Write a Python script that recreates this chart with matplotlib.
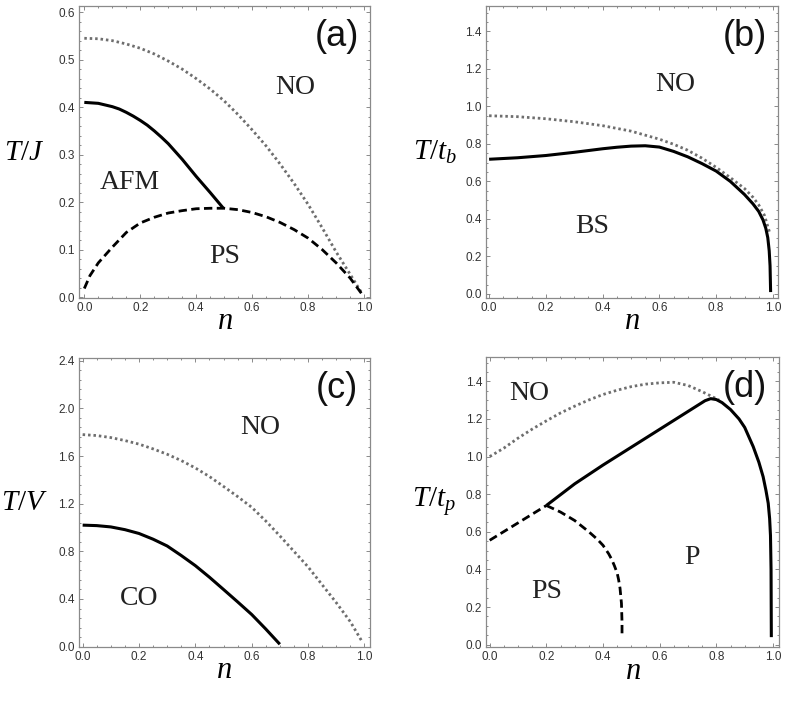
import matplotlib
matplotlib.use("Agg")
import matplotlib.pyplot as plt
from matplotlib.ticker import MultipleLocator, FormatStrFormatter

plt.rcParams["font.family"] = ["Liberation Sans", "DejaVu Sans"]
plt.rcParams["mathtext.fontset"] = "custom"
plt.rcParams["mathtext.it"] = "Liberation Serif:italic"
plt.rcParams["mathtext.rm"] = "Liberation Serif"

# panel (a): T/J vs n
a_dot_n = [0, 0.05, 0.1, 0.15, 0.2, 0.25, 0.3, 0.35, 0.4, 0.45, 0.5, 0.55, 0.6, 0.65, 0.7,
           0.75, 0.8, 0.85, 0.9, 0.95, 0.99]
a_dot_T = [0.545, 0.544, 0.54, 0.533, 0.524, 0.512, 0.497, 0.48, 0.46, 0.438, 0.413, 0.384,
           0.352, 0.318, 0.28, 0.239, 0.195, 0.146, 0.095, 0.048, 0.01]
a_sol_n = [0, 0.05, 0.1, 0.125, 0.15, 0.175, 0.2, 0.225, 0.25, 0.275, 0.3, 0.35, 0.4, 0.45,
           0.497]
a_sol_T = [0.41, 0.408, 0.401, 0.396, 0.389, 0.381, 0.372, 0.362, 0.35, 0.337, 0.323, 0.29,
           0.254, 0.22, 0.187]
a_dash_n = [0, 0.02, 0.05, 0.1, 0.15, 0.2, 0.25, 0.3, 0.35, 0.4, 0.45, 0.5, 0.55, 0.6, 0.65,
            0.7, 0.75, 0.8, 0.85, 0.9, 0.95, 0.99]
a_dash_T = [0.018, 0.045, 0.072, 0.105, 0.136, 0.156, 0.168, 0.177, 0.182, 0.186, 0.187,
            0.187, 0.184, 0.178, 0.169, 0.157, 0.142, 0.124, 0.1, 0.072, 0.04, 0.008]

# panel (b): T/t_b vs n
b_dot_n = [0, 0.1, 0.2, 0.3, 0.4, 0.5, 0.6, 0.65, 0.7, 0.75, 0.8, 0.85, 0.9, 0.93, 0.95,
           0.97, 0.98, 0.99]
b_dot_T = [0.95, 0.945, 0.934, 0.918, 0.897, 0.868, 0.825, 0.798, 0.766, 0.724, 0.675, 0.62,
           0.562, 0.515, 0.475, 0.42, 0.37, 0.32]
b_sol_n = [0, 0.1, 0.2, 0.3, 0.4, 0.45, 0.5, 0.55, 0.6, 0.65, 0.7, 0.75, 0.8, 0.85, 0.9,
           0.93, 0.95, 0.965, 0.975, 0.982, 0.987, 0.99, 0.992]
b_sol_T = [0.718, 0.726, 0.738, 0.755, 0.774, 0.782, 0.788, 0.79, 0.783, 0.76, 0.731, 0.695,
           0.655, 0.6, 0.53, 0.48, 0.44, 0.395, 0.35, 0.3, 0.23, 0.15, 0.01]

# panel (c): T/V vs n
c_dot_n = [0, 0.05, 0.1, 0.15, 0.2, 0.25, 0.3, 0.35, 0.4, 0.45, 0.5, 0.55, 0.6, 0.65, 0.7,
           0.75, 0.8, 0.85, 0.9, 0.95, 0.99]
c_dot_T = [1.78, 1.772, 1.755, 1.73, 1.70, 1.66, 1.615, 1.562, 1.50, 1.428, 1.345, 1.26,
           1.17, 1.055, 0.93, 0.80, 0.67, 0.52, 0.37, 0.21, 0.05]
c_sol_n = [0, 0.05, 0.1, 0.15, 0.2, 0.25, 0.3, 0.35, 0.4, 0.45, 0.5, 0.55, 0.6, 0.65, 0.7]
c_sol_T = [1.02, 1.016, 1.005, 0.982, 0.95, 0.902, 0.845, 0.765, 0.68, 0.583, 0.48, 0.376,
           0.27, 0.148, 0.02]

# panel (d): T/t_p vs n
d_dot_n = [0, 0.05, 0.1, 0.15, 0.2, 0.25, 0.3, 0.35, 0.4, 0.45, 0.5, 0.55, 0.6, 0.65, 0.7,
           0.75, 0.81]
d_dot_T = [1.0, 1.045, 1.098, 1.146, 1.19, 1.232, 1.268, 1.301, 1.33, 1.353, 1.372, 1.385,
           1.392, 1.395, 1.378, 1.345, 1.30]
d_sol_n = [0.2, 0.3, 0.4, 0.5, 0.6, 0.7, 0.74, 0.76, 0.78, 0.8, 0.82, 0.85, 0.88, 0.9, 0.93,
           0.95, 0.965, 0.975, 0.983, 0.988, 0.991, 0.993, 0.994]
d_sol_T = [0.74, 0.855, 0.955, 1.05, 1.145, 1.24, 1.278, 1.297, 1.308, 1.303, 1.287, 1.25,
           1.2, 1.155, 1.053, 0.97, 0.893, 0.82, 0.752, 0.67, 0.58, 0.4, 0.04]
d_dash1_n = [0, 0.2]
d_dash1_T = [0.555, 0.74]
d_dash2_n = [0.2, 0.25, 0.3, 0.35, 0.38, 0.4, 0.42, 0.43, 0.44, 0.45, 0.455, 0.46, 0.465,
             0.467, 0.467]
d_dash2_T = [0.74, 0.705, 0.66, 0.6, 0.56, 0.528, 0.483, 0.455, 0.42, 0.38, 0.345, 0.3, 0.22,
             0.12, 0.04]

W, H = 786, 708
fig = plt.figure(figsize=(W / 100, H / 100), dpi=100)


def make_ax(l, r, t, b):
    return fig.add_axes([l / W, 1 - b / H, (r - l) / W, (b - t) / H])


frame_col = "#8a8a8a"
dot_kw = dict(color="#6e6e6e", lw=2.0, dashes=(0.9, 1.05), dash_capstyle="butt")
sol_kw = dict(color="black", lw=2.2, solid_capstyle="butt", solid_joinstyle="round")
dash_kw = dict(color="black", lw=2.0, dashes=(3.0, 1.6), dash_capstyle="butt")
region_kw = dict(family="Liberation Serif", fontsize=20, ha="center", va="center",
                 color="#222222")


def style(ax, xlim, ylim, ymaj, ymin, ylabel, ylx, tag):
    ax.set_xlim(*xlim)
    ax.set_ylim(*ylim)
    ax.xaxis.set_major_locator(MultipleLocator(0.2))
    ax.xaxis.set_minor_locator(MultipleLocator(0.05))
    ax.yaxis.set_major_locator(MultipleLocator(ymaj))
    ax.yaxis.set_minor_locator(MultipleLocator(ymin))
    ax.xaxis.set_major_formatter(FormatStrFormatter("%.1f"))
    ax.yaxis.set_major_formatter(FormatStrFormatter("%.1f"))
    ax.tick_params(which="both", direction="in", top=True, right=True,
                   color=frame_col, width=0.7)
    ax.tick_params(which="major", length=3.2, labelsize=8.5, labelcolor="#333333", pad=3)
    ax.tick_params(which="minor", length=1.7)
    for s in ax.spines.values():
        s.set_color(frame_col)
        s.set_linewidth(0.9)
    ax.set_xlabel(r"$n$", fontsize=22, va="center")
    ax.xaxis.set_label_coords(0.5, -0.08)
    ax.set_ylabel(ylabel, fontsize=21, rotation=0, ha="center", va="center")
    ax.yaxis.set_label_coords(ylx, 0.5)
    ax.text(0.885, 0.895, tag, transform=ax.transAxes, fontsize=26, ha="center",
            va="center", color="#111111")


# (a)
ax = make_ax(79, 370, 6, 298)
ax.plot(a_dot_n, a_dot_T, **dot_kw)
ax.plot(a_sol_n, a_sol_T, **sol_kw)
ax.plot(a_dash_n, a_dash_T, **dash_kw)
ax.text(0.753, 0.442, "NO", **region_kw)
ax.text(0.163, 0.241, "AFM", **region_kw)
ax.text(0.50, 0.085, "PS", **region_kw)
style(ax, (-0.019, 1.021), (-0.002, 0.613), 0.1, 0.02, r"$T/J$", -0.19, "(a)")

# (b)
ax = make_ax(485.7, 778, 6, 297.7)
ax.plot(b_dot_n, b_dot_T, **dot_kw)
ax.plot(b_sol_n, b_sol_T, **sol_kw)
ax.text(0.657, 1.114, "NO", **region_kw)
ax.text(0.364, 0.362, "BS", **region_kw)
style(ax, (-0.012, 1.018), (-0.02, 1.535), 0.2, 0.05, r"$T/t_b$", -0.175, "(b)")

# (c)
ax = make_ax(78.7, 370, 358, 647)
ax.plot(c_dot_n, c_dot_T, **dot_kw)
ax.plot(c_sol_n, c_sol_T, **sol_kw)
ax.text(0.63, 1.837, "NO", **region_kw)
ax.text(0.201, 0.405, "CO", **region_kw)
style(ax, (-0.014, 1.020), (-0.003, 2.423), 0.4, 0.08, r"$T/V$", -0.185, "(c)")

# (d)
ax = make_ax(486.3, 778.7, 356.7, 647.3)
ax.plot(d_dot_n, d_dot_T, **dot_kw)
ax.plot(d_sol_n, d_sol_T, **sol_kw)
ax.plot(d_dash1_n, d_dash1_T, **dash_kw)
ax.plot(d_dash2_n, d_dash2_T, **dash_kw)
ax.text(0.139, 1.333, "NO", **region_kw)
ax.text(0.2, 0.284, "PS", **region_kw)
ax.text(0.715, 0.461, "P", **region_kw)
style(ax, (-0.012, 1.020), (-0.014, 1.531), 0.2, 0.05, r"$T/t_p$", -0.18, "(d)")

fig.savefig("out.png", dpi=100)
